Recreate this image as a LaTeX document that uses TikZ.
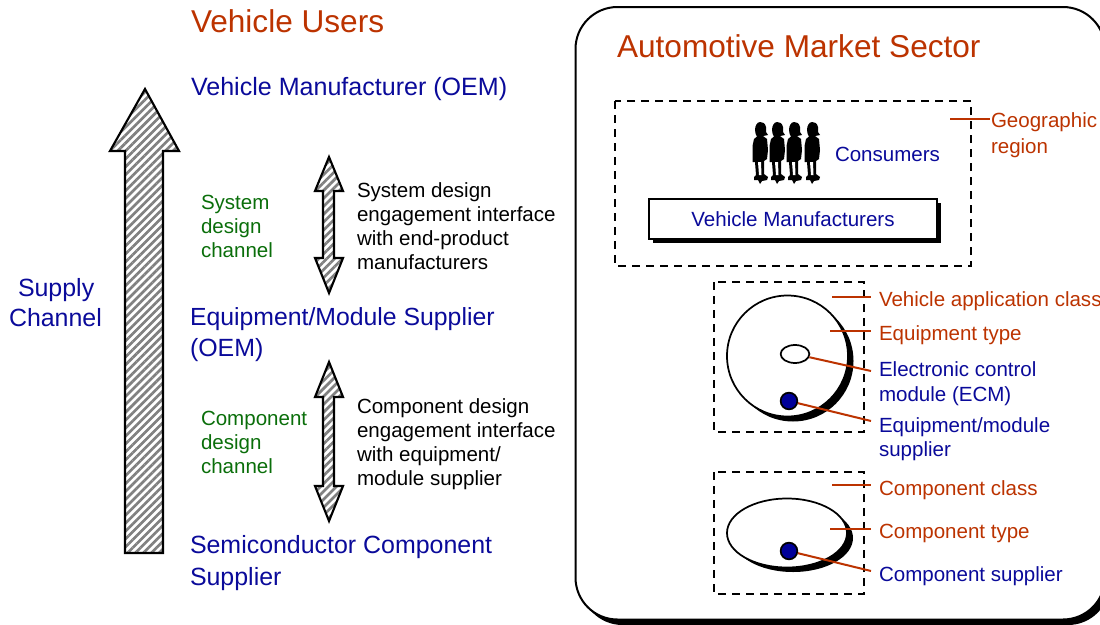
\documentclass[tikz,border=0pt]{standalone}
\usepackage{fontspec}
\setmainfont{Liberation Sans}
\usetikzlibrary{patterns.meta,shapes.geometric}
\definecolor{tred}{HTML}{BC3300}
\definecolor{tblue}{HTML}{0A0A9A}
\definecolor{tgreen}{HTML}{0A6E0A}
\definecolor{dotblue}{HTML}{000099}
\tikzset{
  x=0.75pt,y=-0.75pt,
  hatched/.style={draw=black,line width=1.6pt,line join=miter,pattern={Lines[angle=45,distance=4.2pt,line width=2pt]},pattern color=black!50},
  dashbox/.style={draw=black,line width=1.5pt,dash pattern=on 6pt off 4.5pt},
  leader/.style={draw=tred,line width=1.5pt},
  tx/.style={anchor=base west,inner sep=0pt,outer sep=0pt},
  big/.style={tx,font=\fontsize{18.7}{18.7}\selectfont},
  head/.style={tx,font=\fontsize{23.7}{24}\selectfont},
  small/.style={tx,yshift=-0.75pt,font=\fontsize{15.4}{15.4}\selectfont},
  outlined/.style={draw=black,line width=1.3pt,fill=white},
  pics/person/.style={code={
    \fill[black] (-1,-32) .. controls (-4,-32) and (-6,-28) .. (-6,-24) .. controls (-6,-21) and (-5,-19) .. (-4,-17.5)
      -- (-7,-15) -- (-8.5,-8) -- (-8.5,8) -- (-6,8) -- (-5,21) -- (-7,23) -- (-7,26) -- (-3,26) -- (-1,30) -- (1,27) -- (6,26) -- (7,23) -- (3,20)
      -- (3,7) -- (6,5) -- (7,-4) -- (6,-15) -- (2,-18) -- (7,-19) -- (5,-22) -- (5,-27) .. controls (4,-31) and (2,-32) .. (-1,-32) -- cycle;
    \fill[white] (-3,8) -- (-2,21) -- (0.5,21) -- (0,8) -- cycle;
  }}
}
\begin{document}
\begin{tikzpicture}
\useasboundingbox (0,0) rectangle (1100,625);
% left
\node[head,text=tred] (users) at (191,32) {Vehicle Users};
\node[big,font=\fontsize{18.8}{18.8}\selectfont,text=tblue] (oem) at (191,95) {Vehicle Manufacturer (OEM)};
\node[big,font=\fontsize{18.6}{18.6}\selectfont,text=tblue] (eq1) at (190,325) {Equipment/Module Supplier};
\node[big,text=tblue] (eq2) at (190,356) {(OEM)};
\node[big,text=tblue] (semi1) at (190,553) {Semiconductor Component};
\node[big,text=tblue] (semi2) at (190,585) {Supplier};
\node[big,text=tblue] (sc1) at (18,296) {Supply};
\node[big,text=tblue] (sc2) at (9,326) {Channel};
\draw[hatched] (145,89) -- (179,151) -- (163,151) -- (163,553) -- (125,553) -- (125,151) -- (110,151) -- cycle;
\draw[hatched] (329,157) -- (343,191) -- (334,191) -- (334,258) -- (343,258) -- (329,293) -- (315,258) -- (323,258) -- (323,191) -- (315,191) -- cycle;
\draw[hatched] (329,362) -- (343,397) -- (334,397) -- (334,486) -- (343,486) -- (329,521) -- (315,486) -- (323,486) -- (323,397) -- (315,397) -- cycle;
\node[small,text=tgreen] (g1) at (201,208) {System};
\node[small,text=tgreen] (g2) at (201,232) {design};
\node[small,text=tgreen] (g3) at (201,256) {channel};
\node[small,text=tgreen] (h1) at (201,424) {Component};
\node[small,text=tgreen] (h2) at (201,448) {design};
\node[small,text=tgreen] (h3) at (201,472) {channel};
\node[small] (s1) at (357,196) {System design};
\node[small] (s2) at (357,220) {engagement interface};
\node[small] (s3) at (357,244) {with end-product};
\node[small] (s4) at (357,268) {manufacturers};
\node[small] (c1) at (357,412) {Component design};
\node[small] (c2) at (357,436) {engagement interface};
\node[small] (c3) at (357,460) {with equipment/};
\node[small] (c4) at (357,484) {module supplier};
% market box
\fill[black,rounded corners=31.5pt] (580.5,12) rectangle (1110,625);
\draw[draw=black,line width=1.5pt,fill=white,rounded corners=31.5pt] (575.5,7) rectangle (1105,619.5);
\node[head,text=tred] (ams) at (617,57) {Automotive Market Sector};
\draw[dashbox] (615,101) rectangle (971,266);
\draw[dashbox] (714,282) rectangle (864,432);
\draw[dashbox] (714,472) rectangle (864,594);
% consumers
\foreach \px in {761,778,795,813} \pic at (\px,154) {person};
\node[small,text=tblue] (cons) at (835,160) {Consumers};
\fill[black] (653,203) rectangle (941,243);
\node[draw=black,line width=1.5pt,fill=white,minimum width=216pt,minimum height=30pt,inner sep=0pt,text=tblue,yshift=0pt,font=\fontsize{15.4}{15.4}\selectfont] (vm) at (793,219) {Vehicle Manufacturers};
% circle group
\fill[black] (793,361) circle [radius=60.5];
\draw[outlined] (787.5,356) circle [radius=60.5];
\node[draw=black,line width=1.3pt,fill=white,ellipse,minimum width=21.5pt,minimum height=13.5pt,inner sep=0pt] (ecm) at (795,354) {};
\node[draw=black,line width=1.3pt,fill=dotblue,circle,minimum size=12.5pt,inner sep=0pt] (dot1) at (789,401) {};
% ellipse group
\fill[black] (793,538) ellipse [x radius=60,y radius=34];
\draw[outlined] (787,533) ellipse [x radius=60,y radius=34.5];
\node[draw=black,line width=1.3pt,fill=dotblue,circle,minimum size=12.5pt,inner sep=0pt] (dot2) at (789,551) {};
% labels
\node[small,text=tred] (geo1) at (991,126) {Geographic};
\node[small,text=tred] (geo2) at (991,152) {region};
\node[small,text=tred] (vac) at (879,305) {Vehicle application class};
\node[small,text=tred] (et) at (879,339) {Equipment type};
\node[small,text=tblue] (e1) at (879,375) {Electronic control};
\node[small,text=tblue] (e2) at (879,400) {module (ECM)};
\node[small,text=tblue] (em1) at (879,431) {Equipment/module};
\node[small,text=tblue] (em2) at (879,455) {supplier};
\node[small,text=tred] (cc) at (879,494) {Component class};
\node[small,text=tred] (ct) at (879,537) {Component type};
\node[small,text=tblue] (cs) at (879,580) {Component supplier};
% leaders
\coordinate (lg) at (950,119); \coordinate (lga) at (990,119);
\coordinate (l1) at (832,297); \coordinate (l1a) at (871,297);
\coordinate (l2) at (830,331); \coordinate (l2a) at (871,331);
\coordinate (l3a) at (871,371);
\coordinate (l4a) at (871,421);
\coordinate (l5) at (832,485); \coordinate (l5a) at (871,485);
\coordinate (l6) at (830,529); \coordinate (l6a) at (871,529);
\coordinate (l7a) at (871,571);
\draw[leader] (lg) -- (lga);
\draw[leader] (l1) -- (l1a);
\draw[leader] (l2) -- (l2a);
\draw[leader] (ecm) -- (l3a);
\draw[leader] (dot1) -- (l4a);
\draw[leader] (l5) -- (l5a);
\draw[leader] (l6) -- (l6a);
\draw[leader] (dot2) -- (l7a);
\end{tikzpicture}
\end{document}
